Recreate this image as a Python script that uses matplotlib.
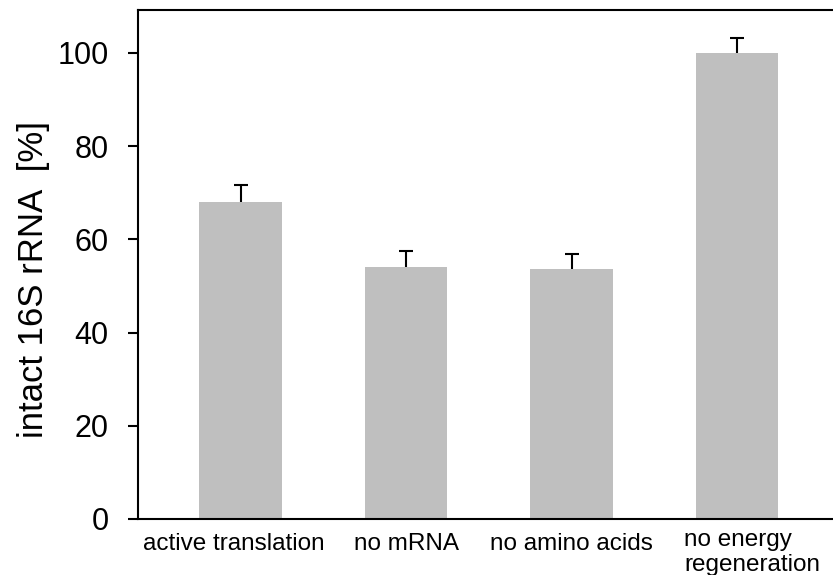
import numpy as np
import matplotlib
matplotlib.use("Agg")
import matplotlib.pyplot as plt
from matplotlib.transforms import ScaledTranslation

plt.rcParams['font.family'] = ['Liberation Sans', 'DejaVu Sans']

# --- datos ---
categorias = ['active translation', 'no mRNA', 'no amino acids', 'no energy\nregeneration']
valores = [68.0, 54.0, 53.6, 100.0]
errores = [3.7, 3.6, 3.3, 3.2]
yticks = [0, 20, 40, 60, 80, 100]

fig = plt.figure(figsize=(8.33, 5.75), dpi=100)
ax = fig.add_axes([0.1657, 0.0974, 0.8343, 0.8852])

x = np.arange(len(categorias))
ax.bar(x, valores, width=0.5, color='#bfbfbf', zorder=2)
eb = ax.errorbar(x, valores, yerr=[np.zeros(len(errores)), errores], fmt='none',
                 ecolor='black', elinewidth=1.5, capsize=5, capthick=1.5, zorder=3)
# solo la tapa superior
eb[1][0].set_visible(False)

ax.set_xlim(-0.62, 3.58)
ax.set_ylim(0, 109.2)
ax.set_yticks(yticks)
ax.tick_params(axis='y', direction='out', length=7.2, width=1.5, labelsize=22, pad=14)
ax.set_xticks(x)
ax.set_xticklabels(categorias, fontsize=17.5)
ax.tick_params(axis='x', length=0, pad=10)
ax.set_ylabel('intact 16S rRNA  [%]', fontsize=25)
ax.yaxis.set_label_coords(-0.127, 0.47)

# corrimientos finos de las etiquetas del eje x
labs = ax.get_xticklabels()
labs[0].set_transform(labs[0].get_transform() + ScaledTranslation(-0.07, 0, fig.dpi_scale_trans))
labs[3].set_multialignment('left')
labs[3].set_transform(labs[3].get_transform() + ScaledTranslation(0.15, 0.04, fig.dpi_scale_trans))

for lado in ['left', 'bottom', 'top']:
    ax.spines[lado].set_linewidth(1.5)
ax.spines['right'].set_visible(False)

fig.savefig('out.png', dpi=100)
